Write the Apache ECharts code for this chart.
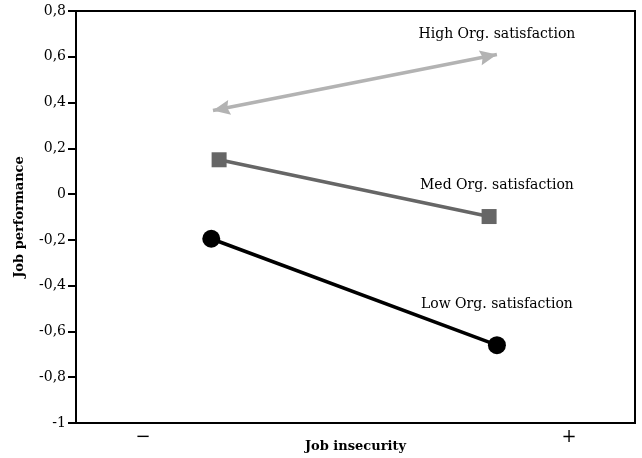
<!DOCTYPE html>
<html>
<head>
<meta charset="utf-8">
<script src="https://cdn.jsdelivr.net/npm/echarts@6/dist/echarts.min.js"></script>
<style>html,body{margin:0;padding:0;background:#fff;}#c{width:642px;height:458px;}</style>
</head>
<body>
<div id="c"></div>
<script>
// x positions on a 0..100 scale (left = low job insecurity, right = high)
const xTickPos = [12, 88.2];
const xTickLabels = ['\u2212', '+'];
const yTicks = [-1, -0.8, -0.6, -0.4, -0.2, 0, 0.2, 0.4, 0.6, 0.8];

const lowX = [24.2, 75.3];
const lowY = [-0.195, -0.66];
const medX = [25.6, 73.9];
const medY = [0.15, -0.098];
const highX = [24.5, 75.3];
const highY = [0.365, 0.61];

const seriesNames = ['Low Org. satisfaction', 'Med Org. satisfaction', 'High Org. satisfaction'];
const labelX = [75.3, 75.3, 75.3];
const labelY = [-0.482, 0.037, 0.696];

const FONT = 'DejaVu Serif';
// arrowhead whose tip sits at the symbol centre
const ARROW = 'path://M5,-14L5,-14M5,0L10,14L5,12L0,14Z';

const chart = echarts.init(document.getElementById('c'));
chart.setOption({
  animation: false,
  backgroundColor: '#fff',
  grid: { left: 76, right: 7, top: 11, bottom: 35, outerBoundsMode: 'none', containLabel: false,
          show: true, borderColor: '#000', borderWidth: 2, backgroundColor: 'transparent' },
  xAxis: {
    type: 'value', min: 0, max: 100,
    name: 'Job insecurity', nameLocation: 'middle', nameGap: 17, nameMoveOverlap: false,
    nameTextStyle: { fontFamily: FONT, fontWeight: 'bold', fontSize: 13, color: '#000', verticalAlign: 'top' },
    axisLine: { show: true, onZero: false, lineStyle: { color: '#000', width: 2 } },
    axisTick: { show: false },
    splitLine: { show: false },
    axisLabel: {
      customValues: xTickPos,
      formatter: function (v) { const i = xTickPos.indexOf(v); return i >= 0 ? xTickLabels[i] : ''; },
      fontFamily: FONT, fontSize: 18, color: '#000', margin: 5
    }
  },
  yAxis: {
    type: 'value', min: -1, max: 0.8, interval: 0.2,
    name: 'Job performance', nameLocation: 'middle', nameGap: 50, nameMoveOverlap: false,
    nameTextStyle: { fontFamily: FONT, fontWeight: 'bold', fontSize: 13, color: '#000' },
    axisLine: { show: true, onZero: false, lineStyle: { color: '#000', width: 2 } },
    axisTick: { show: true, length: 8, lineStyle: { color: '#000', width: 2 } },
    splitLine: { show: false },
    axisLabel: {
      fontFamily: FONT, fontSize: 14, color: '#000', margin: 10,
      formatter: function (v) { const r = Math.round(v * 10) / 10; return String(r).replace('.', ','); }
    }
  },
  series: [
    {
      name: seriesNames[0], type: 'line',
      data: lowX.map((x, i) => [x, lowY[i]]),
      symbol: 'circle', symbolSize: 18,
      itemStyle: { color: '#000' },
      lineStyle: { color: '#000', width: 3.5 }
    },
    {
      name: seriesNames[1], type: 'line',
      data: medX.map((x, i) => [x, medY[i]]),
      symbol: 'rect', symbolSize: 15,
      itemStyle: { color: '#666' },
      lineStyle: { color: '#666', width: 3.5 }
    },
    {
      name: seriesNames[2], type: 'line',
      data: [],
      markLine: {
        silent: true,
        symbol: [ARROW, ARROW],
        symbolSize: [15, 34],
        label: { show: false },
        itemStyle: { color: '#b3b3b3', borderWidth: 0 },
        lineStyle: { color: '#b3b3b3', width: 3.5, type: 'solid' },
        data: [[{ coord: [highX[0], highY[0]] }, { coord: [highX[1], highY[1]] }]]
      },
      itemStyle: { color: '#b3b3b3' }
    },
    {
      type: 'scatter', symbolSize: 0, silent: true,
      itemStyle: { color: '#000', opacity: 1 },
      data: seriesNames.map((n, i) => ({ value: [labelX[i], labelY[i]], name: n })),
      label: {
        show: true, position: 'inside',
        formatter: function (p) { return p.name; },
        fontFamily: FONT, fontSize: 14, color: '#000'
      }
    }
  ]
});
</script>
</body>
</html>
